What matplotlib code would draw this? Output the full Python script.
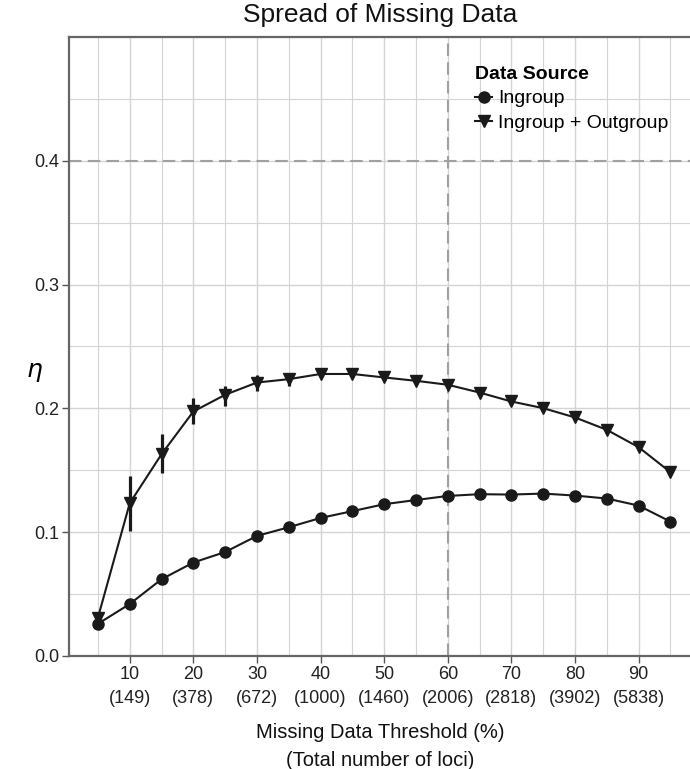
import numpy as np
import matplotlib
matplotlib.use("Agg")
import matplotlib.pyplot as plt
from matplotlib.ticker import MultipleLocator

plt.rcParams['font.family'] = ['Liberation Sans', 'DejaVu Sans']

# missing data threshold (%)
thresholds = [5, 10, 15, 20, 25, 30, 35, 40, 45, 50, 55, 60, 65, 70, 75, 80, 85, 90, 95]

# eta for ingroup only
eta_in = [0.026, 0.042, 0.062, 0.0755, 0.084, 0.097, 0.104, 0.1115, 0.117, 0.1226,
          0.126, 0.1293, 0.1307, 0.1304, 0.1312, 0.1296, 0.1272, 0.1215, 0.1086]

# eta for ingroup + outgroup
eta_out = [0.031, 0.1234, 0.163, 0.1975, 0.211, 0.2209, 0.2236, 0.2278, 0.2278, 0.225,
           0.2223, 0.2191, 0.2128, 0.2056, 0.2002, 0.1927, 0.1827, 0.1687, 0.1485]
# error range of ingroup + outgroup (low, high)
err_lo = [0.031, 0.101, 0.148, 0.187, 0.202, 0.2137, 0.218, 0.2278, 0.2278, 0.225,
          0.2223, 0.2191, 0.2128, 0.2056, 0.2002, 0.1927, 0.1827, 0.1687, 0.1485]
err_hi = [0.031, 0.1455, 0.179, 0.208, 0.218, 0.227, 0.2286, 0.2278, 0.2278, 0.225,
          0.2223, 0.2191, 0.2128, 0.2056, 0.2002, 0.1927, 0.1827, 0.1687, 0.1485]

# tick labels
tick_pos = [10, 20, 30, 40, 50, 60, 70, 80, 90]
loci = [149, 378, 672, 1000, 1460, 2006, 2818, 3902, 5838]

W, H = 690, 769
fig = plt.figure(figsize=(W / 100, H / 100), dpi=100)
ax = fig.add_axes([69 / W, 1 - 656 / H, 630 / W, 619 / H])

ink = '#1a1a1a'
grid_c = '#d4d4d4'

ax.set_xlim(0.45, 99.5)
ax.set_ylim(0, 0.5)
ax.xaxis.set_major_locator(MultipleLocator(10))
ax.xaxis.set_minor_locator(MultipleLocator(5))
ax.yaxis.set_major_locator(MultipleLocator(0.1))
ax.yaxis.set_minor_locator(MultipleLocator(0.05))
ax.grid(which='major', color=grid_c, lw=1.0)
ax.grid(which='minor', color=grid_c, lw=0.8)
ax.set_axisbelow(True)

# reference lines
ax.axhline(0.4, color='#a0a0a0', lw=1.5, dashes=(6, 3), zorder=1.5)
ax.axvline(60, color='#a0a0a0', lw=1.5, dashes=(6, 3), zorder=1.5)

yerr = [np.array(eta_out) - np.array(err_lo), np.array(err_hi) - np.array(eta_out)]
ax.errorbar(thresholds, eta_out, yerr=yerr, fmt='none', ecolor=ink, elinewidth=2.3,
            capsize=0, zorder=3)
ax.plot(thresholds, eta_in, color=ink, lw=1.5, marker='o', ms=8, zorder=4,
        label='Ingroup')
ax.plot(thresholds, eta_out, color=ink, lw=1.5, marker='v', ms=9, zorder=4,
        label='Ingroup + Outgroup')

ax.set_xticks(tick_pos)
ax.set_xticklabels([f"{t}\n({n})" for t, n in zip(tick_pos, loci)], linespacing=1.55)
ax.set_yticks([0.0, 0.1, 0.2, 0.3, 0.4])
ax.set_yticklabels(['0.0', '0.1', '0.2', '0.3', '0.4'])
ax.tick_params(which='major', labelsize=13, color='#555555', length=5, width=1,
               labelcolor='#222222', pad=2)
ax.tick_params(which='minor', length=0)

for side in ['left', 'bottom', 'top']:
    ax.spines[side].set_color('#666666')
    ax.spines[side].set_linewidth(1.6)
ax.spines['right'].set_visible(False)

fig.text(380 / W, 1 - 15 / H, 'Spread of Missing Data', fontsize=19, ha='center',
         va='center', color='#111111')
fig.text(35 / W, 1 - 372 / H, r'$\eta$', fontsize=18, ha='center', va='center')
fig.text(380 / W, 1 - 733 / H, 'Missing Data Threshold (%)', fontsize=14.5,
         ha='center', va='center', color='#111111')
fig.text(380 / W, 1 - 760 / H, '(Total number of loci)', fontsize=14.5,
         ha='center', va='center', color='#111111')

leg = ax.legend(loc='upper left', bbox_to_anchor=(475 / W, 1 - 66 / H),
                bbox_transform=fig.transFigure, frameon=False, fontsize=14,
                title='Data Source', title_fontproperties={'weight': 'bold', 'size': 14},
                alignment='left', handlelength=0.9, handletextpad=0.3,
                labelspacing=0.35, borderpad=0, borderaxespad=0)

fig.savefig('out.png', dpi=100)
